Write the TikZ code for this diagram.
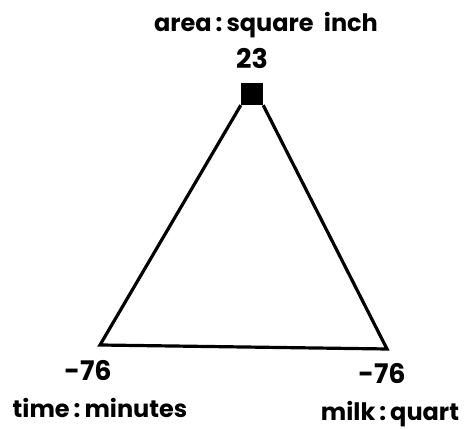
\documentclass[tikz,border=0pt]{standalone}
\usepackage{fontspec}
\setmainfont{Poppins}
\usepackage{tikz}
\usetikzlibrary{positioning}
\tikzset{
  edge/.style={line width=3.2pt,line join=miter,draw=black},
  vertex/.style={rectangle,fill=black,inner sep=0pt,minimum size=22pt},
  lbl/.style={inner sep=0pt,font=\bfseries\fontsize{24}{28}\selectfont},
  numlbl/.style={lbl,font=\bfseries\fontsize{27}{30}\selectfont}
}
\begin{document}
\begin{tikzpicture}[x=1pt,y=1pt]
  \useasboundingbox (0,0) rectangle (472,430);
  \node[vertex] (apex) at (252,336) {};
  \coordinate (left) at (100,85);
  \coordinate (right) at (387,81);
  \draw[edge] (apex.south west) -- (left) -- (right) -- (apex.south east);
  % labels
  \node[numlbl] (topval) at (252,371) {23};
  \node[lbl] (toplbl) at (266,405) {area\,:\,square\ \ inch};
  \node[numlbl] (leftval) at (88,59) {-76};
  \node[lbl] (leftlbl) at (100,22) {time\,:\,minutes};
  \node[numlbl] (rightval) at (382,56) {-76};
  \node[lbl] (rightlbl) at (390,16) {milk\,:\,quart};
\end{tikzpicture}
\end{document}
